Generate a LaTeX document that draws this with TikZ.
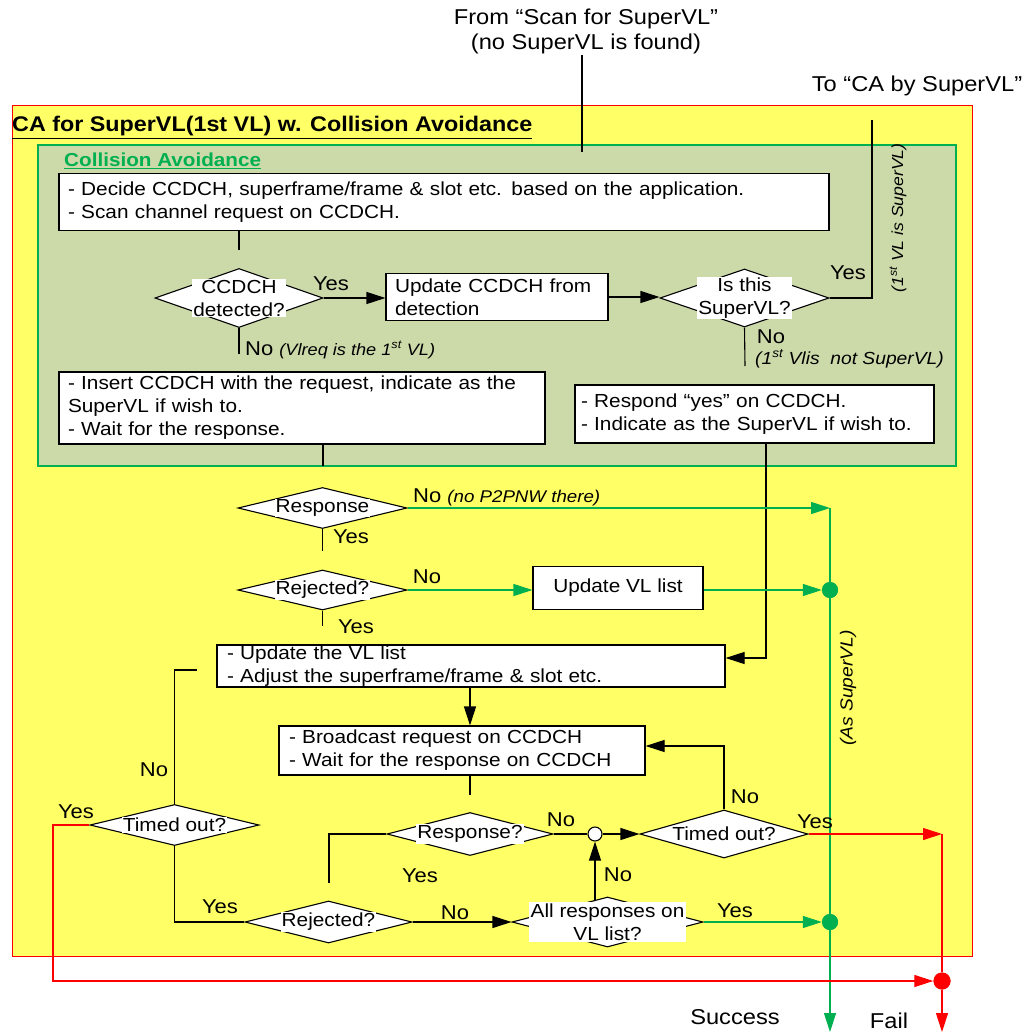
\documentclass[tikz,border=0pt]{standalone}
\usepackage{fontspec}
\setmainfont{Liberation Sans}[FakeStretch=1.1]
\usetikzlibrary{arrows.meta,shapes.geometric}
\definecolor{yfill}{HTML}{FFFF66}
\definecolor{gfill}{HTML}{CCDAAA}
\definecolor{gline}{HTML}{00B050}
\definecolor{rline}{HTML}{FF0000}
\newcommand{\mainsz}{\fontsize{18.9}{23}\selectfont}
\newcommand{\lblsz}{\fontsize{20}{23}\selectfont}
\newcommand{\bigsz}{\fontsize{21.5}{25}\selectfont}
\newcommand{\smallit}{\itshape\fontsize{16.5}{18}\selectfont}
\begin{document}
\begin{tikzpicture}[x=1pt,y=-1pt,
  every node/.style={font=\mainsz, inner sep=0pt},
  box/.style={draw, fill=white, line width=1.1pt, inner ysep=0pt, align=left},
  dia/.style={diamond, draw, fill=white, line width=1.1pt, inner sep=0pt},
  dtxt/.style={fill=white, inner sep=1pt, align=center},
  lbl/.style={inner sep=0pt, font=\lblsz},
  ln/.style={line width=1.1pt},
  arr/.style={line width=1.1pt, -{Triangle[length=19pt,width=12pt]}},
  gln/.style={line width=1.1pt, draw=gline},
  garr/.style={line width=1.1pt, draw=gline, -{Triangle[length=19pt,width=12pt]}, gline},
  rln/.style={line width=1.1pt, draw=rline},
  rarr/.style={line width=1.1pt, draw=rline, -{Triangle[length=19pt,width=12pt]}, rline},
]
\useasboundingbox (0,0) rectangle (1021,1035);
\fill[white] (0,0) rectangle (1021,1035);

% frames
\draw[draw=rline, fill=yfill, line width=1pt] (12,106) rectangle (972,956);
\draw[draw=gline, fill=gfill, line width=1.2pt] (38,145) rectangle (956,466);
\node[inner sep=0pt, anchor=base west, font=\bfseries\fontsize{21.2}{26}\selectfont] (title) at (12,132) {\underline{CA for SuperVL(1st VL) w. Collision Avoidance}};
\node[inner sep=0pt, anchor=base west, font=\bfseries\fontsize{18.8}{23}\selectfont, text=gline] (gtitle) at (64,167) {\underline{Collision Avoidance}};

% top texts
\node[inner sep=0pt, align=center, font=\bigsz] (from) at (586,31) {From “Scan for SuperVL”\\(no SuperVL is found)};
\coordinate (fromend) at (582,152);
\draw[ln] (fromend |- 0,55) -- (fromend);
\node[inner sep=0pt, font=\bigsz] (to) at (917,86) {To “CA by SuperVL”};
\coordinate (toend) at (872,120);

% boxes
\node[box, minimum width=770, minimum height=57, text width=752, inner xsep=9pt] (b1) at (444,202) {- Decide CCDCH, superframe/frame \& slot etc. based on the application.\\- Scan channel request on CCDCH.};
\node[box, minimum width=222, minimum height=47, text width=204, inner xsep=9pt] (upd1) at (497,297) {Update CCDCH from\\detection};
\node[box, minimum width=486, minimum height=72, text width=468, inner xsep=9pt] (ins) at (302,408) {- Insert CCDCH with the request, indicate as the\\SuperVL if wish to.\\- Wait for the response.};
\node[box, minimum width=359, minimum height=58, text width=347, inner xsep=6pt] (resp) at (754.5,414) {- Respond “yes” on CCDCH.\\- Indicate as the SuperVL if wish to.};
\node[box, minimum width=170, minimum height=43, align=center] (vl) at (618,588) {Update VL list};
\node[box, minimum width=508, minimum height=42, text width=488, inner xsep=10pt] (upd2) at (471,666) {- Update the VL list\\- Adjust the superframe/frame \& slot etc.};
\node[box, minimum width=366, minimum height=49, text width=346, inner xsep=10pt] (bc) at (462,750.5) {- Broadcast request on CCDCH\\- Wait for the response on CCDCH};

% diamonds
\node[dia, minimum width=168, minimum height=59] (d1) at (239,298) {};
\node[dtxt] (d1t) at (d1) {CCDCH\\detected?};
\node[dia, minimum width=169, minimum height=58] (d2) at (744.5,298) {};
\node[dtxt] (d2t) at (d2) {Is this\\SuperVL?};
\node[dia, minimum width=169, minimum height=41] (d3) at (322.5,508) {};
\node[dtxt] (d3t) at (d3) {Response};
\node[dia, minimum width=169, minimum height=40] (d4) at (322.5,590) {};
\node[dtxt] (d4t) at (d4) {Rejected?};
\node[dia, minimum width=166, minimum height=43] (d5) at (470,834) {};
\node[dtxt] (d5t) at (d5) {Response?};
\node[dia, minimum width=168, minimum height=48] (d6) at (724,834) {};
\node[dtxt] (d6t) at (d6) {Timed out?};
\node[dia, minimum width=169, minimum height=41] (d7) at (174.5,825) {};
\node[dtxt] (d7t) at (d7) {Timed out?};
\node[dia, minimum width=167, minimum height=42] (d8) at (328.5,922) {};
\node[dtxt] (d8t) at (d8) {Rejected?};
\node[dia, minimum width=191, minimum height=50] (d9) at (607.5,922) {};
\node[dtxt, inner xsep=2pt, inner ysep=2pt] (d9t) at (d9) {All responses on\\VL list?};

% junctions
\node[circle, draw, fill=white, line width=1.1pt, minimum size=14pt] (sc) at (595,834) {};
\node[circle, fill=gline, minimum size=16pt] (gd1) at (830,590) {};
\node[circle, fill=gline, minimum size=16pt] (gd2) at (830,922) {};
\node[circle, fill=rline, minimum size=17pt] (rd) at (942,981) {};

% coordinates
\coordinate (b1end) at (239,250);
\coordinate (d1no) at (239,354);
\coordinate (d2no) at (745,366);
\coordinate (insend) at (323,466);
\coordinate (rcorner) at (766,658);
\coordinate (gtop) at (830,508);
\coordinate (gbot) at (830,1032);
\coordinate (d3yes) at (322.5,551);
\coordinate (d4yes) at (322.5,626);
\coordinate (bcend) at (470,795);
\coordinate (d5yes) at (329,883);
\coordinate (d6up) at (724,746);
\coordinate (rtop) at (942,834);
\coordinate (rbot) at (942,1032);
\coordinate (d7c) at (174.5,670);
\coordinate (d7end) at (197,670);
\coordinate (rleft) at (53,981);

% black connectors
\draw[ln] (b1.south -| b1end) -- (b1end);
\draw[arr] (d1.east) -- (d1.east -| upd1.west);
\draw[arr] (upd1.east) -- (upd1.east -| d2.west);
\draw[ln] (d2.east) -- (d2.east -| toend) -- (toend);
\draw[ln] (d2.south) -- (d2no);
\draw[ln] (d1.south) -- (d1no);
\draw[ln] (ins.south -| insend) -- (insend);
\draw[arr] (resp.south -| rcorner) -- (rcorner) -- (rcorner -| upd2.east);
\draw[ln] (d3.south) -- (d3yes);
\draw[ln] (d4.south) -- (d4yes);
\draw[arr] (upd2.south -| d5.north) -- (bc.north -| d5.north);
\draw[ln] (bc.south -| bcend) -- (bcend);
\draw[ln] (d5.west) -| (d5yes);
\draw[ln] (d5.east) -- (sc.west);
\draw[arr] (sc.east) -- (d6.west);
\draw[arr] (d6.north) -- (d6up) -- (d6up -| bc.east);
\draw[ln] (d7.north) -- (d7c) -- (d7end);
\draw[ln] (d7.south) |- (d8.west);
\draw[arr] (d8.east) -- (d9.west);
\draw[arr] (d9t.north -| sc.south) -- (sc.south);

% green connectors
\draw[garr] (d3.east) -- (d3.east -| gtop);
\draw[gln] (gtop) -- (gd1);
\draw[gln] (gd1) -- (gd2);
\draw[garr] (gd2) -- (gbot);
\draw[garr] (d4.east) -- (d4.east -| vl.west);
\draw[garr] (gd1 -| vl.east) -- (gd1.west);
\draw[garr] (d9.east) -- (gd2.west);
\node[circle, fill=gline, minimum size=16pt] at (gd1) {};
\node[circle, fill=gline, minimum size=16pt] at (gd2) {};

% red connectors
\draw[rarr] (d6.east) -- (rtop);
\draw[rln] (rtop) -- (rd);
\draw[rarr] (rd) -- (rbot);
\draw[rarr] (d7.west) -| (rleft) -- (rd.west);
\node[circle, fill=rline, minimum size=17pt] at (rd) {};

% labels
\node[lbl] (l1) at (331,284) {Yes};
\node[lbl, anchor=base west] (l2) at (245,355) {No {\smallit (Vlreq is the 1\textsuperscript{st} VL)}};
\node[lbl] (l3) at (848,273) {Yes};
\node[lbl] (l4) at (771,337) {No};
\node[lbl, anchor=base west, font=\itshape\fontsize{17.5}{20}\selectfont] (l5) at (755,364) {(1\textsuperscript{st} Vlis\ \ not SuperVL)};
\node[lbl, anchor=base west] (l6) at (413,502) {No {\itshape\fontsize{17}{20}\selectfont (no P2PNW there)}};
\node[lbl] (l7) at (351,537) {Yes};
\node[lbl] (l8) at (427,577) {No};
\node[lbl] (l9) at (356,627) {Yes};
\node[lbl] (l10) at (154,770) {No};
\node[lbl] (l11) at (76,812) {Yes};
\node[lbl] (l12) at (220,907) {Yes};
\node[lbl] (l13) at (420,876) {Yes};
\node[lbl] (l14) at (561,820) {No};
\node[lbl] (l15) at (618,875) {No};
\node[lbl] (l16) at (745,797) {No};
\node[lbl] (l17) at (815,822) {Yes};
\node[lbl] (l18) at (455,913) {No};
\node[lbl] (l19) at (735,911) {Yes};
\node[lbl, font=\bigsz] (l20) at (735,1017) {Success};
\node[lbl, font=\bigsz] (l21) at (889,1021) {Fail};
\node[lbl, rotate=90, font=\itshape\fontsize{17.5}{20}\selectfont] (l22) at (848,688) {(As SuperVL)};
\node[lbl, rotate=90, font=\itshape\fontsize{16}{18}\selectfont] (l23) at (898,218) {(1\textsuperscript{st} VL is SuperVL)};
\end{tikzpicture}
\end{document}
